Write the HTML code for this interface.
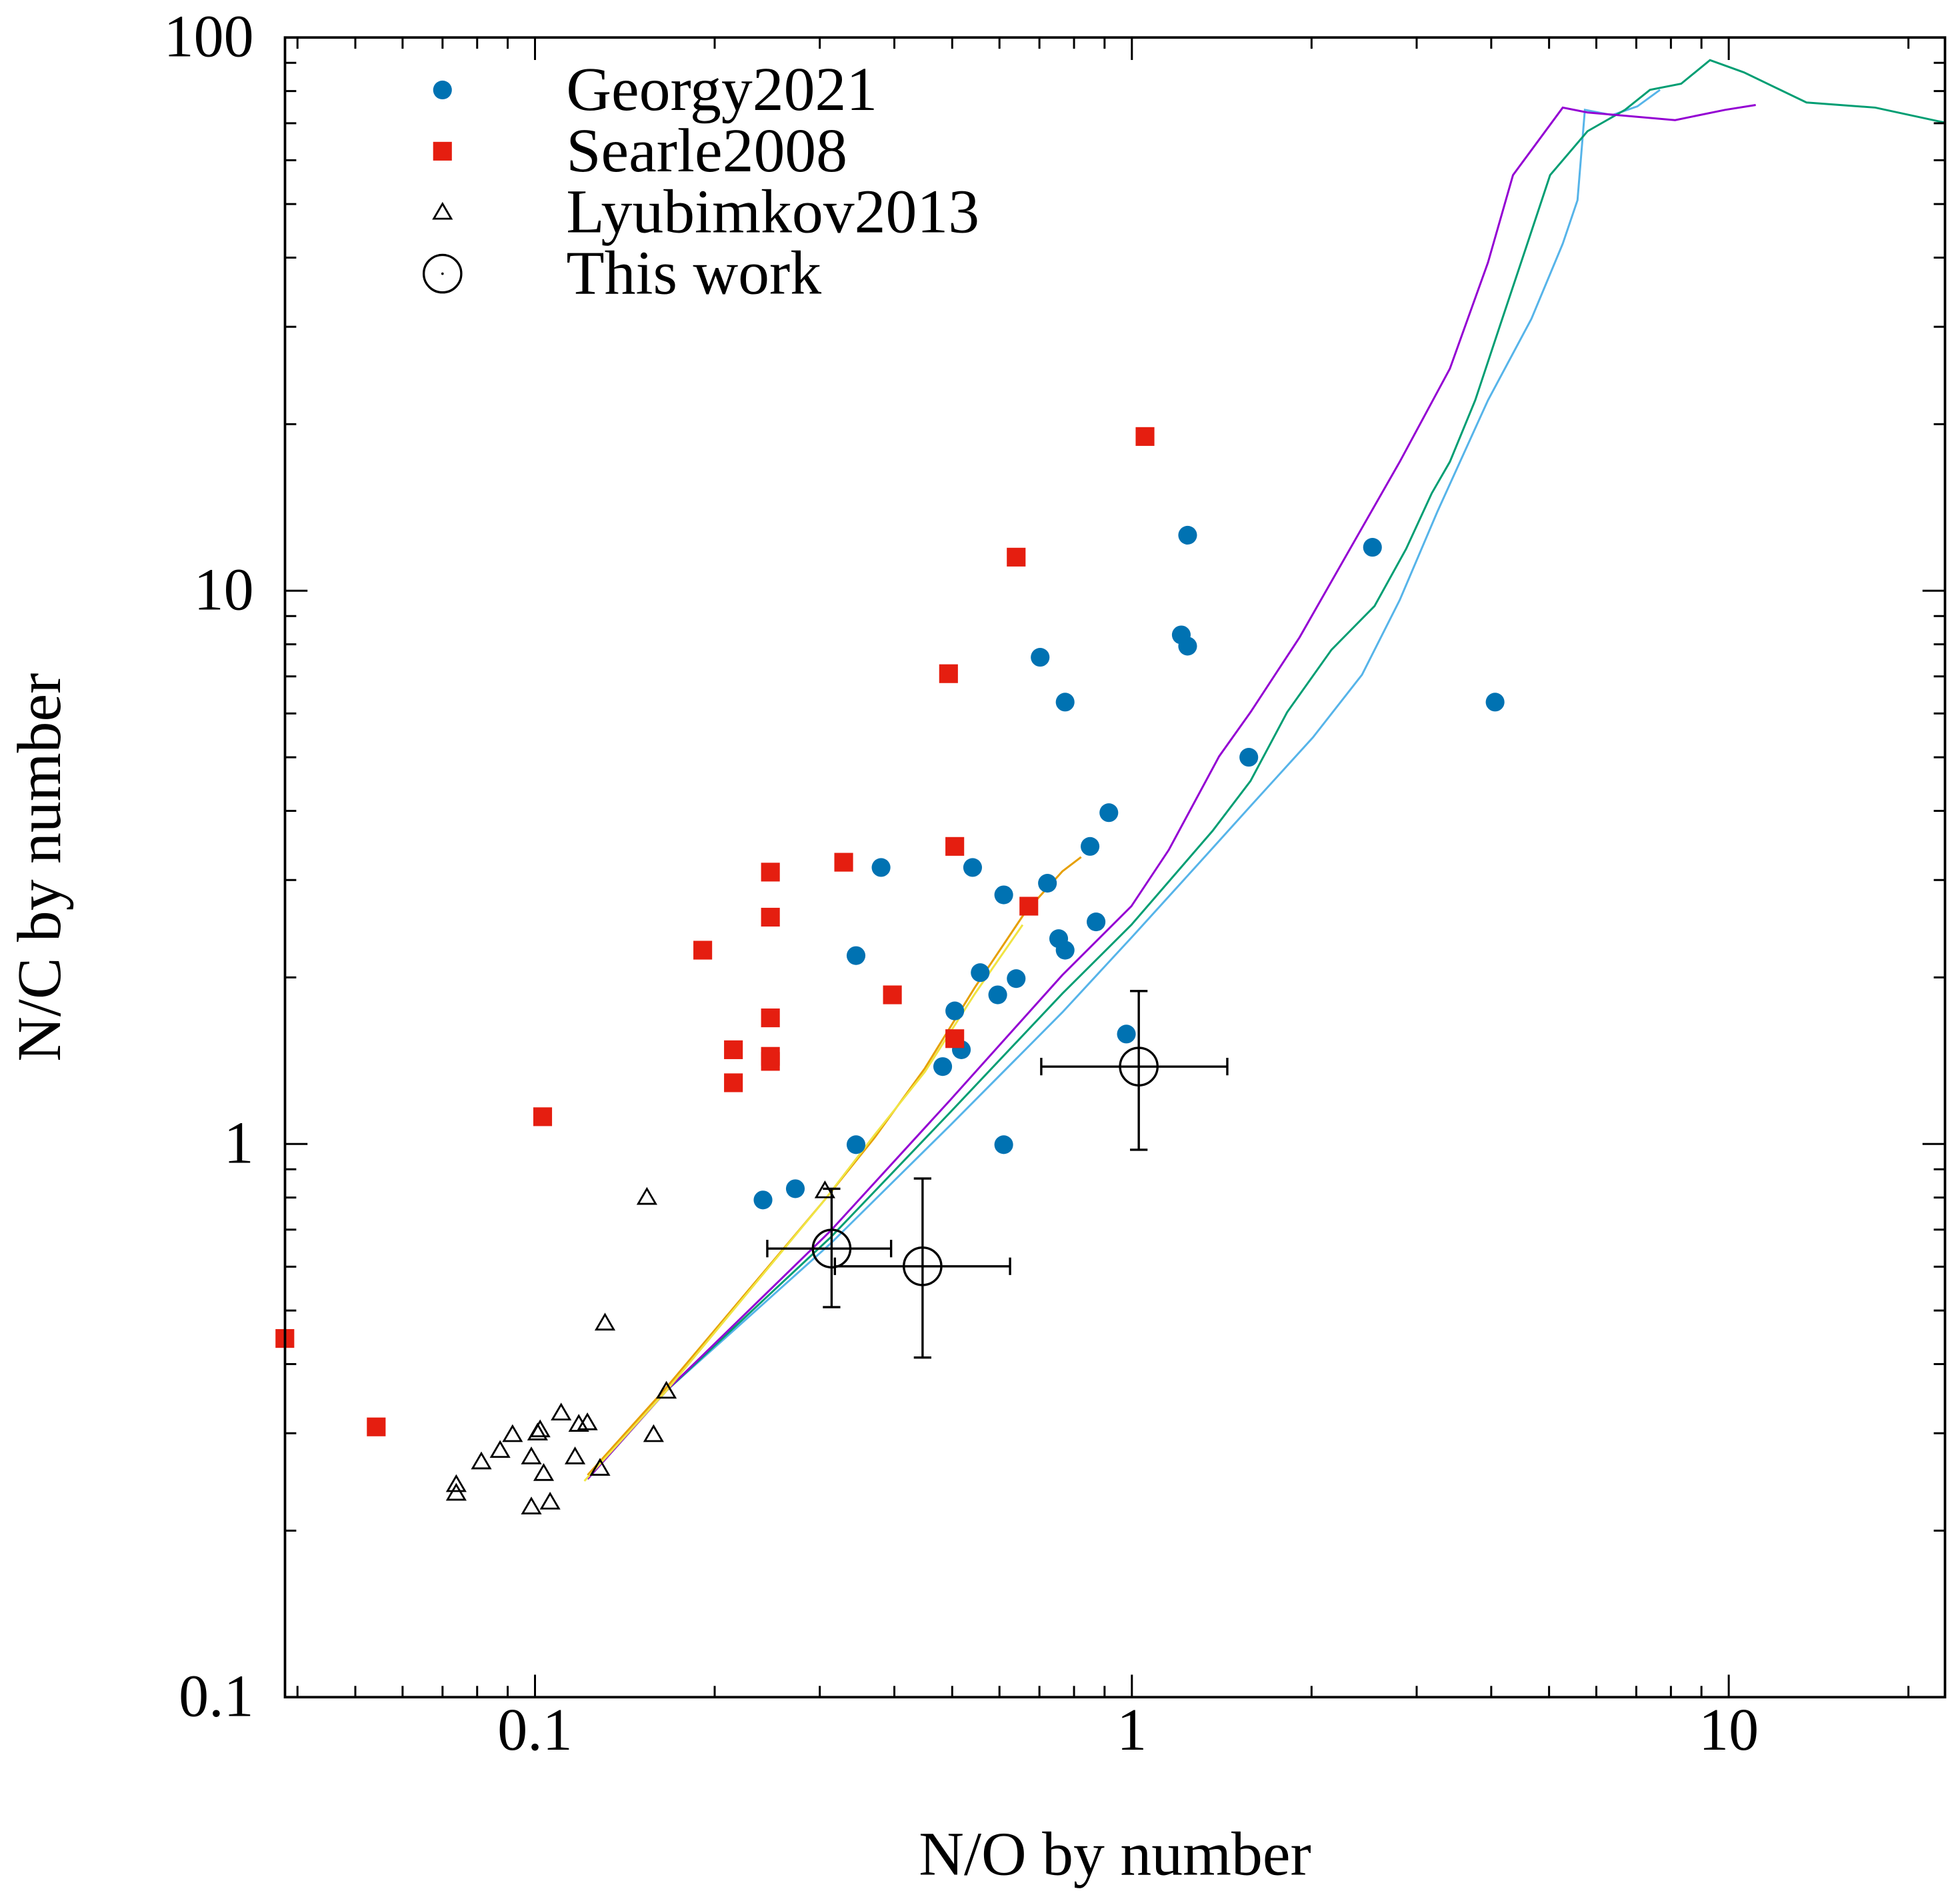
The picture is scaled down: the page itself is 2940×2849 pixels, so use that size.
<!DOCTYPE html>
<html><head><meta charset="utf-8"><style>
html,body{margin:0;padding:0;background:#fff}
svg{display:block}
text{font-family:"Liberation Serif",serif;fill:#000}
</style></head><body>
<svg id="chart" width="2940" height="2849" viewBox="0 0 1568 1519.5" preserveAspectRatio="none" xmlns="http://www.w3.org/2000/svg">
<rect x="0" y="0" width="1568" height="1519.5" fill="#fff"/>
<g id="lines"></g>
<g id="marks"></g>
<g id="axes"></g>
<g id="legend"></g>
</svg>
<script>
const georgyX=[0.241,0.273,0.345,0.345,0.380,0.482,0.505,0.518,0.541,0.557,0.596,0.610,0.610,0.640,0.702,0.722,0.754,0.773,0.773,0.851,0.871,0.915,0.979,1.21,1.24,1.24,1.57,2.53,4.06];
const georgyY=[0.792,0.83,0.997,2.19,3.16,1.38,1.74,1.48,3.16,2.04,1.86,2.82,0.997,1.99,7.58,2.96,2.35,2.24,6.29,3.45,2.52,3.97,1.58,8.32,7.94,12.6,5.0,11.98,6.29];
const searleX=[0.0381,0.0542,0.103,0.191,0.215,0.215,0.248,0.248,0.248,0.248,0.248,0.329,0.397,0.493,0.505,0.505,0.640,0.672,1.052];
const searleY=[0.445,0.308,1.12,2.24,1.48,1.29,3.10,2.57,1.69,1.44,1.41,3.23,1.86,7.08,3.45,1.55,11.5,2.69,19.0];
const lyuX=[0.0738,0.0738,0.0813,0.0874,0.0917,0.0986,0.0986,0.101,0.102,0.1034,0.106,0.1106,0.1167,0.1184,0.1224,0.1285,0.131,0.154,0.158,0.166,0.306];
const lyuY=[0.2335,0.242,0.266,0.279,0.298,0.2205,0.2716,0.300,0.304,0.2535,0.225,0.326,0.2716,0.311,0.313,0.259,0.474,0.80,0.298,0.357,0.822];
const workX=[0.314,0.446,1.027];
const workY=[0.647,0.601,1.38];
const workXlo=[0.245,0.318,0.705];
const workXhi=[0.395,0.625,1.445];
const workYlo=[0.507,0.411,0.976];
const workYhi=[0.83,0.866,1.89];
const purpleX=[0.1225,0.166,0.313,0.496,0.765,0.998,1.153,1.40,1.58,1.91,2.32,2.81,3.41,3.95,4.35,5.27,5.80,8.13,9.86,11.1];
const purpleY=[0.248,0.358,0.697,1.20,2.02,2.69,3.40,5.02,6.03,8.24,11.9,17.1,25.2,39.2,56.4,74.7,73.2,70.9,74.0,75.5];
const greenX=[0.1225,0.166,0.313,0.496,0.765,0.998,1.365,1.58,1.82,2.16,2.55,2.88,3.18,3.41,3.76,4.14,4.56,5.02,5.80,6.70,7.38,8.32,9.30,10.6,13.5,17.6,22.4,23.0];
const greenY=[0.248,0.358,0.678,1.14,1.87,2.49,3.68,4.53,6.03,7.82,9.38,11.9,15.0,17.1,22.1,30.2,41.3,56.4,67.7,74.0,80.4,82.5,91.0,86.5,76.3,74.7,70.6,70.2];
const blueX=[0.1225,0.166,0.313,0.496,0.765,0.998,1.30,1.58,2.01,2.43,2.81,3.25,3.95,4.67,5.27,5.58,5.74,6.38,7.03,7.67];
const blueY=[0.248,0.358,0.661,1.08,1.73,2.36,3.23,4.08,5.43,7.05,9.62,13.9,22.1,31.0,42.4,50.8,74.0,72.4,75.1,80.4];
const orangeX=[0.1225,0.166,0.306,0.371,0.450,0.546,0.662,0.765,0.822];
const orangeY=[0.252,0.363,0.793,1.028,1.37,1.92,2.62,3.11,3.30];
const yellowX=[0.121,0.166,0.306,0.371,0.450,0.546,0.656];
const yellowY=[0.246,0.358,0.793,1.04,1.35,1.87,2.49];
const xTickVals=[0.1,1,10];
const xTickLabels=["0.1","1","10"];
const yTickVals=[0.1,1,10,100];
const yTickLabels=["0.1","1","10","100"];

const L=228,R=1556,T=30,B=1358;
function X(v){return 428+(Math.log10(v)+1)*477.5;}
function Y(v){return 30+(2-Math.log10(v))*442.67;}
const NS="http://www.w3.org/2000/svg";
function mk(tag,attrs,parent){const e=document.createElementNS(NS,tag);for(const k in attrs)e.setAttribute(k,attrs[k]);parent.appendChild(e);return e;}
const gL=document.getElementById('lines'),gM=document.getElementById('marks'),gA=document.getElementById('axes'),gG=document.getElementById('legend');

const clip=mk('clipPath',{id:'pc'},document.getElementById('chart'));
mk('rect',{x:L,y:T,width:R-L,height:B-T},clip);
gL.setAttribute('clip-path','url(#pc)');

function line(xs,ys,color,name){
  const d=xs.map((v,i)=>(i?'L':'M')+X(v).toFixed(1)+' '+Y(ys[i]).toFixed(1)).join(' ');
  const p=mk('path',{d:d,fill:'none',stroke:color,'stroke-width':1.6},gL);
  
  
}
line(blueX,blueY,'#56b4e9','track-light-blue');
line(greenX,greenY,'#009e73','track-green');
line(purpleX,purpleY,'#9400d3','track-purple');
line(orangeX,orangeY,'#e69f00','track-orange');
line(yellowX,yellowY,'#f0e442','track-yellow');

georgyX.forEach((v,i)=>{
  const c=mk('circle',{cx:X(v),cy:Y(georgyY[i]),r:7.5,fill:'#0072b2'},gM);
  
  
});
searleX.forEach((v,i)=>{
  const r=mk('rect',{x:X(v)-7.5,y:Y(searleY[i])-7.5,width:15,height:15,fill:'#e51e10'},gM);
  
  
});
function tri(cx,cy,parent){
  return mk('path',{d:`M${cx} ${cy-7} L${cx+7} ${cy+5} L${cx-7} ${cy+5} Z`,fill:'none',stroke:'#000','stroke-width':1.5},parent);
}
lyuX.forEach((v,i)=>{
  const t=tri(X(v),Y(lyuY[i]),gM);
  
  
});
workX.forEach((v,i)=>{
  const g=mk('g',{},gM);
  
  
  const cx=X(v),cy=Y(workY[i]),x1=X(workXlo[i]),x2=X(workXhi[i]),y1=Y(workYhi[i]),y2=Y(workYlo[i]);
  const s={stroke:'#000','stroke-width':1.8};
  mk('line',Object.assign({x1:x1,y1:cy,x2:x2,y2:cy},s),g);
  mk('line',Object.assign({x1:cx,y1:y1,x2:cx,y2:y2},s),g);
  mk('line',Object.assign({x1:x1,y1:cy-7,x2:x1,y2:cy+7},s),g);
  mk('line',Object.assign({x1:x2,y1:cy-7,x2:x2,y2:cy+7},s),g);
  mk('line',Object.assign({x1:cx-7,y1:y1,x2:cx+7,y2:y1},s),g);
  mk('line',Object.assign({x1:cx-7,y1:y2,x2:cx+7,y2:y2},s),g);
  mk('circle',{cx:cx,cy:cy,r:15,fill:'none',stroke:'#000','stroke-width':1.8},g);
});

mk('rect',{x:L,y:T,width:R-L,height:B-T,fill:'none',stroke:'#000','stroke-width':2},gA);
const ts={stroke:'#000','stroke-width':1.6};
for(let e=-2;e<=1;e++){for(let m=1;m<10;m++){const v=m*Math.pow(10,e);const x=X(v);if(x<L-0.5||x>R+0.5)continue;const len=m===1?18:9;
  mk('line',Object.assign({x1:x,y1:B,x2:x,y2:B-len},ts),gA);mk('line',Object.assign({x1:x,y1:T,x2:x,y2:T+len},ts),gA);}}
for(let e=-1;e<=2;e++){for(let m=1;m<10;m++){const v=m*Math.pow(10,e);if(v>100.01)continue;const y=Y(v);const len=m===1?18:9;
  mk('line',Object.assign({x1:L,y1:y,x2:L+len,y2:y},ts),gA);mk('line',Object.assign({x1:R,y1:y,x2:R-len,y2:y},ts),gA);}}
xTickVals.forEach((v,i)=>{const t=mk('text',{x:X(v),y:1400,'font-size':48,'text-anchor':'middle'},gA);t.textContent=xTickLabels[i];
  });
yTickVals.forEach((v,i)=>{const t=mk('text',{x:203,y:Y(v)+15,'font-size':48,'text-anchor':'end'},gA);t.textContent=yTickLabels[i];
  });
const xt=mk('text',{x:892,y:1500,'font-size':50,'text-anchor':'middle'},gA);xt.textContent='N/O by number';

const yt=mk('text',{x:0,y:0,'font-size':50,'text-anchor':'middle',transform:'translate(48 694) rotate(-90)'},gA);yt.textContent='N/C by number';


const names=['Georgy2021','Searle2008','Lyubimkov2013','This work'];
const rows=[72,121,170,219];
names.forEach((n,i)=>{
  const g=mk('g',{},gG);
  
  
  const y=rows[i];
  if(i===0)mk('circle',{cx:354,cy:y,r:7.5,fill:'#0072b2'},g);
  if(i===1)mk('rect',{x:346.5,y:y-7.5,width:15,height:15,fill:'#e51e10'},g);
  if(i===2)tri(354,y,g);
  if(i===3){mk('circle',{cx:354,cy:y,r:15,fill:'none',stroke:'#000','stroke-width':1.8},g);mk('circle',{cx:354,cy:y,r:1,fill:'#000'},g);}
  const t=mk('text',{x:453,y:y+16,'font-size':50},g);t.textContent=n;
});
</script>
</body></html>
